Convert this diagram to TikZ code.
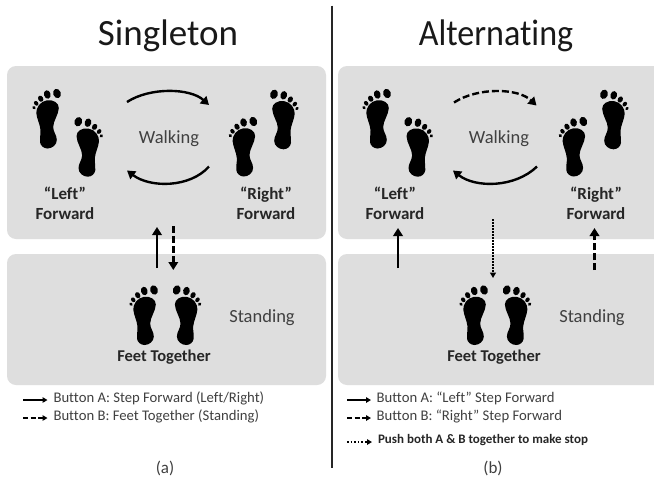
\documentclass[tikz,border=0pt]{standalone}
\usepackage{fontspec}
\usepackage{graphicx}
\setmainfont[Ligatures=NoCommon]{Carlito}
\usetikzlibrary{arrows.meta}
\definecolor{panel}{RGB}{222,222,222}
\definecolor{ink}{RGB}{64,64,64}
\tikzset{
 x=1pt,y=-1pt,
 panelbox/.style={fill=panel,draw=none,rounded corners=9pt},
 flow/.style={line width=2.4pt,black,-{Triangle[length=8pt,width=9.5pt]}},
 flowdash/.style={flow,dash pattern=on 7pt off 3pt},
 flowdot/.style={line width=1.4pt,black,dash pattern=on 1.5pt off 1.5pt,-{Triangle[length=5.5pt,width=6pt]}},
 keyline/.style={line width=1.7pt,black,-{Triangle[length=5pt,width=5.5pt]}},
 keydash/.style={keyline,dash pattern=on 5pt off 2.5pt},
 keydot/.style={keyline,dash pattern=on 1.6pt off 2pt},
 titletext/.style={font=\fontsize{37}{40}\selectfont,text=black!90,anchor=base},
 statetext/.style={font=\fontsize{18.5}{21}\selectfont,text=ink,anchor=base},
 bold/.style={font=\bfseries\fontsize{17}{20}\selectfont,text=black!85,align=center},
 boldbase/.style={bold,font=\bfseries\fontsize{16.5}{20}\selectfont,anchor=base},
 keytext/.style={font=\fontsize{14.7}{17}\selectfont,text=ink,anchor=base west},
 captext/.style={font=\fontsize{17}{20}\selectfont,text=ink},
 foot/.pic={
  \fill[black] (37,13.5) ellipse[x radius=3.8,y radius=4.8,rotate=20];
  \fill[black] (27.3,14.5) ellipse[x radius=3.3,y radius=4.3,rotate=15];
  \fill[black] (20.7,18.7) ellipse[x radius=2.5,y radius=3.2,rotate=30];
  \fill[black] (16.2,23.3) ellipse[x radius=2,y radius=2.6,rotate=40];
  \fill[black] (14,27.7) ellipse[x radius=1.7,y radius=1.9,rotate=45];
  \fill[black] (38.8,28)
   .. controls (39,23) and (33,19.3) .. (27,20.3)
   .. controls (20,21.3) and (16,28) .. (16.3,33)
   .. controls (16.8,39) and (20,44) .. (20.5,50)
   .. controls (20.8,55) and (19.5,58) .. (20,62)
   .. controls (20.5,66) and (24,68.5) .. (27.5,68.5)
   .. controls (32,68.5) and (36.8,65) .. (36.8,60)
   .. controls (36.8,55) and (33.2,52) .. (33.2,47)
   .. controls (33.2,41) and (38.5,35) .. (38.8,28) -- cycle;
 }
}
\newcommand{\footL}[2]{\pic at (#1,#2) {foot};}
\newcommand{\footR}[2]{\pic[xscale=-1] at (#1,#2) {foot};}
\begin{document}
\begin{tikzpicture}
\useasboundingbox (0,0) rectangle (654,477);
\fill[white] (0,0) rectangle (654,477);
% panels
\node[panelbox,minimum width=319pt,minimum height=173pt,inner sep=0pt] (wa) at (166.5,152.5) {};
\node[panelbox,minimum width=319pt,minimum height=131pt,inner sep=0pt] (sa) at (166.5,319.5) {};
\path[fill=panel] (654,66) -- (347,66) arc[start angle=90,end angle=180,radius=9pt] -- (338,230) arc[start angle=180,end angle=270,radius=9pt] -- (654,239) -- cycle;
\path[fill=panel] (654,254) -- (347,254) arc[start angle=90,end angle=180,radius=9pt] -- (338,376) arc[start angle=180,end angle=270,radius=9pt] -- (654,385) -- cycle;
% divider
\coordinate (d1) at (332,5.5); \coordinate (d2) at (332,468);
\draw[line width=1.6pt,black!85] (d1) -- (d2);
% titles
\node[titletext] (t1) at (168,45) {Singleton};
\node[titletext] (t2) at (496,45) {\scalebox{.92}[1]{Alternating}};
\node[captext] (ca) at (165,468) {(a)};
\node[captext] (cb) at (493,468) {(b)};
% feet a
\footL{20}{80}\footR{115.3}{108.2}\footL{216.3}{108}\footR{311}{80.8}
\footL{117}{276.5}\footR{213.7}{276.5}
% feet b
\footL{350}{80}\footR{445.3}{108.2}\footL{546.3}{108}\footR{641}{80.8}
\footL{447}{276.5}\footR{543.7}{276.5}
% labels a
\node[statetext] (wl) at (169,143) {Walking};
\node[statetext] (sl) at (262,322.5) {Standing};
\node[bold] (la) at (65,203) {“Left”\\Forward};
\node[bold] (ra) at (266,203) {“Right”\\Forward};
\node[boldbase] (fa) at (164,361.5) {Feet Together};
% labels b
\node[statetext] (wl2) at (499,143) {Walking};
\node[statetext] (sl2) at (592,322.5) {Standing};
\node[bold] (lb) at (395,203) {“Left”\\Forward};
\node[bold] (rb) at (596,203) {“Right”\\Forward};
\node[boldbase] (fb) at (494,361.5) {Feet Together};
% connectors a
\coordinate (a1) at (127,102); \coordinate (a2) at (209,105);
\coordinate (a3) at (209,166.5); \coordinate (a4) at (127,170.5);
\coordinate (a5) at (157,268); \coordinate (a6) at (157,227);
\coordinate (a7) at (173.3,226); \coordinate (a8) at (173.3,270);
\draw[flow] (a1) .. controls (150,87) and (190,88) .. (a2);
\draw[flow] (a3) .. controls (190,188) and (150,188) .. (a4);
\draw[flow] (a5) -- (a6);
\draw[flowdash] (a7) -- (a8);
% connectors b
\coordinate (b1) at (454,102.5); \coordinate (b2) at (536.5,105.5);
\coordinate (b3) at (537,166.5); \coordinate (b4) at (453,170.5);
\coordinate (b5) at (398,268); \coordinate (b6) at (398,228);
\coordinate (b7) at (594.5,270); \coordinate (b8) at (594.5,228);
\coordinate (b9) at (493,219); \coordinate (b10) at (493,278);
\draw[flowdash] (b1) .. controls (478,87) and (518,88) .. (b2);
\draw[flow] (b3) .. controls (515,188) and (475,188) .. (b4);
\draw[flow] (b5) -- (b6);
\draw[flowdash] (b7) -- (b8);
\draw[flowdot] (b9) -- (b10);
% keys a
\coordinate (ka1) at (23,400); \coordinate (ka1e) at (47.5,400);
\coordinate (ka2) at (23,418); \coordinate (ka2e) at (47.5,418);
\draw[keyline] (ka1) -- (ka1e);
\draw[keydash] (ka2) -- (ka2e);
\node[keytext] (kta) at (50,402) {Button A: Step Forward (Left/Right)};
\node[keytext] (ktb) at (50,420) {Button B: Feet Together (Standing)};
% keys b
\coordinate (kb1) at (347,400); \coordinate (kb1e) at (371,400);
\coordinate (kb2) at (347,418); \coordinate (kb2e) at (371,418);
\coordinate (kb3) at (347,442); \coordinate (kb3e) at (372,442);
\draw[keyline] (kb1) -- (kb1e);
\draw[keydash] (kb2) -- (kb2e);
\draw[keydot] (kb3) -- (kb3e);
\node[keytext] (ktc) at (373,402) {Button A: “Left” Step Forward};
\node[keytext] (ktd) at (373,420) {Button B: “Right” Step Forward};
\node[keytext,font=\bfseries\fontsize{13}{15}\selectfont,text=black!85] (kte) at (374.5,443) {Push both A \& B together to make stop};
\end{tikzpicture}
\end{document}
